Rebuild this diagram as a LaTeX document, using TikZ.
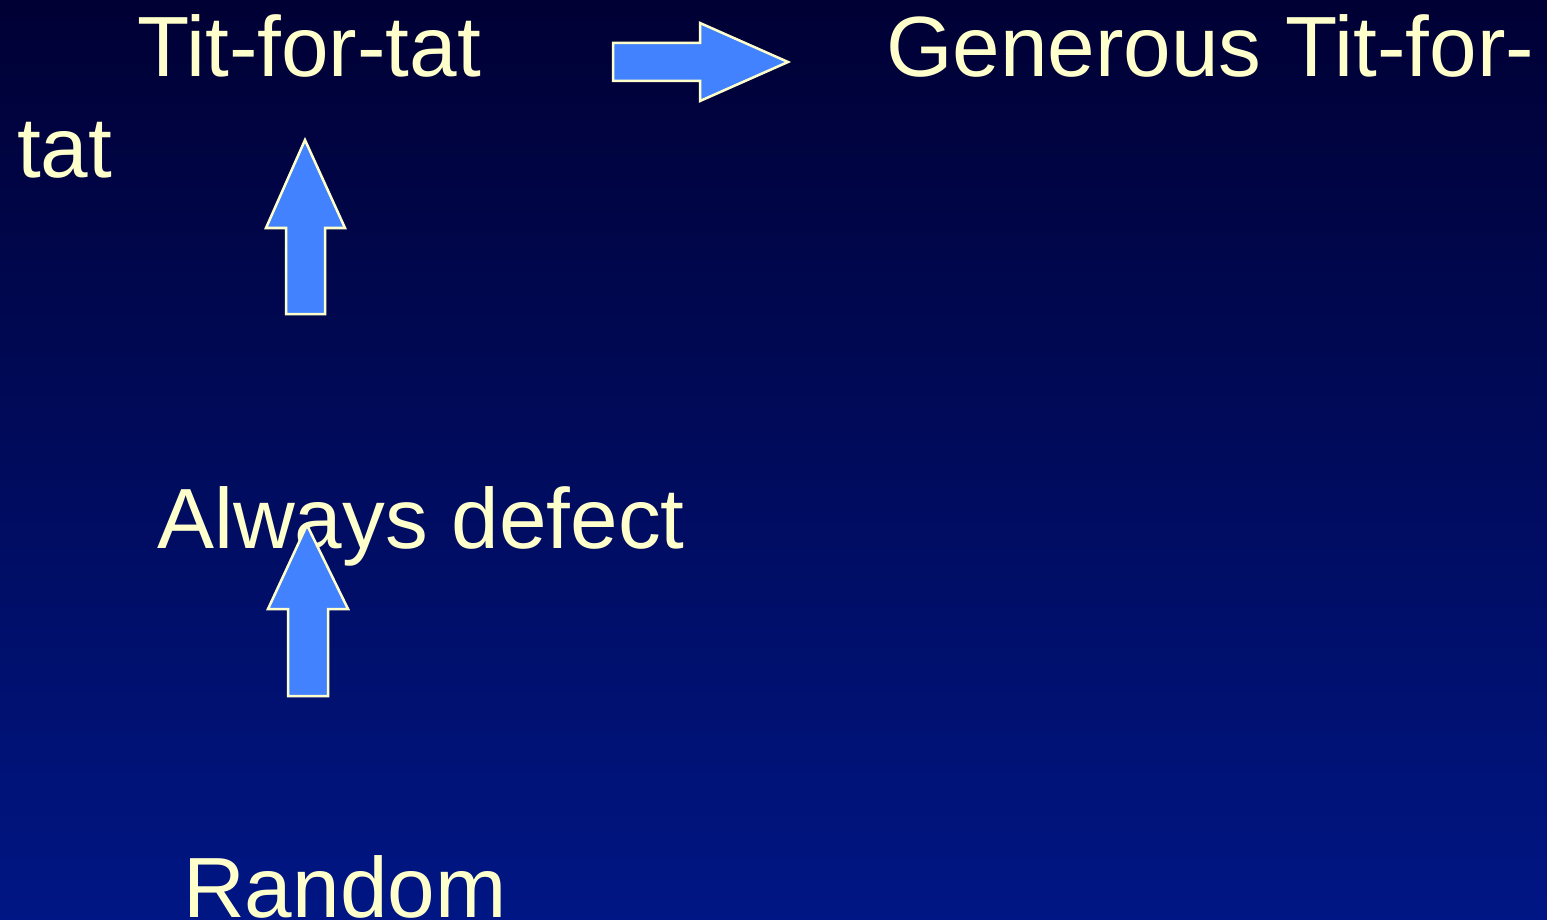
\documentclass[tikz,border=0pt]{standalone}
\usepackage{fontspec}
\setmainfont{Liberation Sans}
\definecolor{slidetop}{RGB}{0,0,52}
\definecolor{slidebottom}{RGB}{0,22,132}
\definecolor{labelcream}{RGB}{255,255,204}
\definecolor{arrowblue}{RGB}{66,130,255}
\tikzset{
  strategy/.style={anchor=base west, inner sep=0pt, text=labelcream,
    font=\fontsize{85.5}{100}\selectfont},
  blockarrow/.style={fill=arrowblue, draw=labelcream, line width=2.5pt, line join=miter}
}
\begin{document}
\begin{tikzpicture}[x=1pt, y=-1pt]
    \useasboundingbox (0,0) rectangle (1547,920);
    \shade [top color=slidetop, bottom color=slidebottom] (0,0) rectangle (1547,920);

    \node [strategy] (tft) at (137,77) {Tit-for-tat};
    \node [strategy] (gtft) at (886,77) {Generous Tit-for-};
    \node [strategy] (gtfttail) at (17,178) {tat};
    \node [strategy] (alld) at (157,548) {Always defect};
    \node [strategy] (rand) at (183,917) {Random};

    % block arrows
    \draw [blockarrow] (613,43) -- (700,43) -- (700,23) -- (788,62) -- (700,101) -- (700,81) -- (613,81) -- cycle;
    \draw [blockarrow] (286,314) -- (286,228) -- (266,228) -- (305,140) -- (345,228) -- (325,228) -- (325,314) -- cycle;
    \draw [blockarrow] (288,696) -- (288,609) -- (268,609) -- (307,525) -- (348,609) -- (328,609) -- (328,696) -- cycle;
  \end{tikzpicture}
\end{document}
